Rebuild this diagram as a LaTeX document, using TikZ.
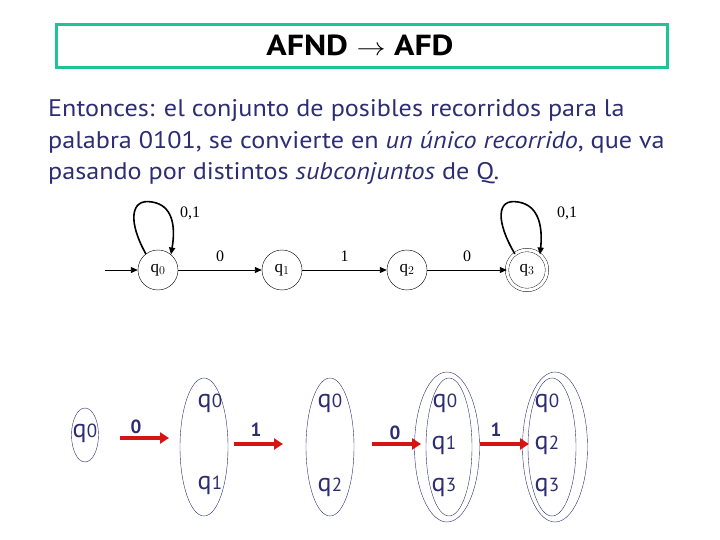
\documentclass[tikz,border=0pt]{standalone}
\usepackage{fontspec}
\setmainfont{PT Sans}
\newfontfamily\timesf{Liberation Serif}
\usetikzlibrary{arrows.meta,shapes.geometric}
\definecolor{navy}{RGB}{45,45,115}
\definecolor{redarr}{RGB}{215,20,20}
\definecolor{teal2}{RGB}{30,195,150}
\newcommand{\qq}[1]{q\kern0.3pt{\fontsize{19}{19}\selectfont #1}}
\newcommand{\wline}[1]{\scalebox{1.09}[1]{#1}}
\begin{document}
\begin{tikzpicture}[x=1pt,y=-1pt,
  st/.style={circle,draw,line width=0.4pt,minimum size=40pt,inner sep=0pt,font=\timesf\fontsize{17}{17}\selectfont},
  elab/.style={font=\timesf\fontsize{16}{16}\selectfont,inner sep=1pt},
  edge/.style={-{Triangle[length=7pt,width=6pt]},line width=0.9pt},
  loopl/.style={-{Triangle[length=7pt,width=6pt]},line width=1.6pt},
  ell/.style={ellipse,draw=navy,thin,inner sep=0pt},
  qt/.style={text=navy,font=\fontsize{26}{26}\selectfont,inner sep=0pt},
  rarr/.style={draw=redarr,line width=3.5pt,-{Triangle[length=9pt,width=11pt]}},
  rlab/.style={text=navy,font=\bfseries\fontsize{19}{19}\selectfont,inner sep=0pt},
  body/.style={text=navy,font=\fontsize{24}{24}\selectfont,anchor=base west,inner sep=0pt}]
\useasboundingbox (0,0) rectangle (720,540);
% title
\node[draw=teal2,line width=3pt,minimum width=611pt,minimum height=43pt,anchor=north west] (title) at (55,23) {};
\node[font=\bfseries\fontsize{29}{29}\selectfont] (titletext) at (360,45) {\scalebox{1.165}[1]{AFND $\rightarrow$ AFD}};
% body text
\node[body] (l1) at (48,117) {\wline{Entonces: el conjunto de posibles recorridos para la}};
\node[body] (l2) at (48,149) {\wline{palabra 0101, se convierte en \textit{un único recorrido}, que va}};
\node[body] (l3) at (48,180) {\wline{pasando por distintos \textit{subconjuntos} de Q.}};
% automaton
\node[st] (q0) at (158,270) {q$_0$};
\node[st] (q1) at (282,270) {q$_1$};
\node[st] (q2) at (407,270) {q$_2$};
\node[st,double,double distance=3pt] (q3) at (527,270) {q$_3$};
\coordinate (start) at (105,270);
\draw[edge] (start) -- (q0.west);
\draw[edge] (q0) -- node[elab,above=7pt]{0} (q1);
\draw[edge] (q1) -- node[elab,above=7pt]{1} (q2);
\draw[edge] (q2) -- node[elab,above=7pt]{0} (q3);
\draw[loopl] (q0.127) .. controls (128,222) and (130,198) .. (152,202) .. controls (172,205) and (176,225) .. (q0.50);
\node[elab] (l01a) at (190,213) {0,1};
\draw[loopl] (q3.127) .. controls (496,222) and (496,198) .. (518,202) .. controls (538,205) and (543,225) .. (q3.50);
\node[elab] (l01b) at (567,213) {0,1};
% subsets
\node[ell,minimum width=27pt,minimum height=54pt] (e1) at (85,435) {};
\node[qt] (e1a) at (85,433) {\qq{0}};
\node[ell,minimum width=48pt,minimum height=138pt] (e2) at (204,447) {};
\node[qt] (e2a) at (210,403) {\qq{0}};
\node[qt] (e2b) at (210,485) {\qq{1}};
\node[ell,minimum width=48pt,minimum height=138pt] (e3) at (330,447) {};
\node[qt] (e3a) at (330,403) {\qq{0}};
\node[qt] (e3b) at (330,487) {\qq{2}};
\node[ell,minimum width=65pt,minimum height=150pt] (e4o) at (447,447) {};
\node[ell,minimum width=46pt,minimum height=138pt] (e4i) at (449,447) {};
\node[qt] (e4a) at (445,403) {\qq{0}};
\node[qt] (e4b) at (444,445) {\qq{1}};
\node[qt] (e4c) at (444,487) {\qq{3}};
\node[ell,minimum width=65pt,minimum height=150pt] (e5o) at (555,447) {};
\node[ell,minimum width=48pt,minimum height=138pt] (e5i) at (552,447) {};
\node[qt] (e5a) at (547,403) {\qq{0}};
\node[qt] (e5b) at (547,445) {\qq{2}};
\node[qt] (e5c) at (547,487) {\qq{3}};
% red arrows
\coordinate (a1s) at (120,438); \coordinate (a1e) at (169,438);
\coordinate (a2s) at (234,444); \coordinate (a2e) at (283,444);
\coordinate (a3s) at (372,444); \coordinate (a3e) at (421,444);
\coordinate (a4s) at (480,444); \coordinate (a4e) at (529,444);
\draw[rarr] (a1s) -- (a1e);
\draw[rarr] (a2s) -- (a2e);
\draw[rarr] (a3s) -- (a3e);
\draw[rarr] (a4s) -- (a4e);
\node[rlab] (r1) at (136,427) {0};
\node[rlab] (r2) at (256,430) {1};
\node[rlab] (r3) at (395,433) {0};
\node[rlab] (r4) at (496,430) {1};
\end{tikzpicture}
\end{document}
